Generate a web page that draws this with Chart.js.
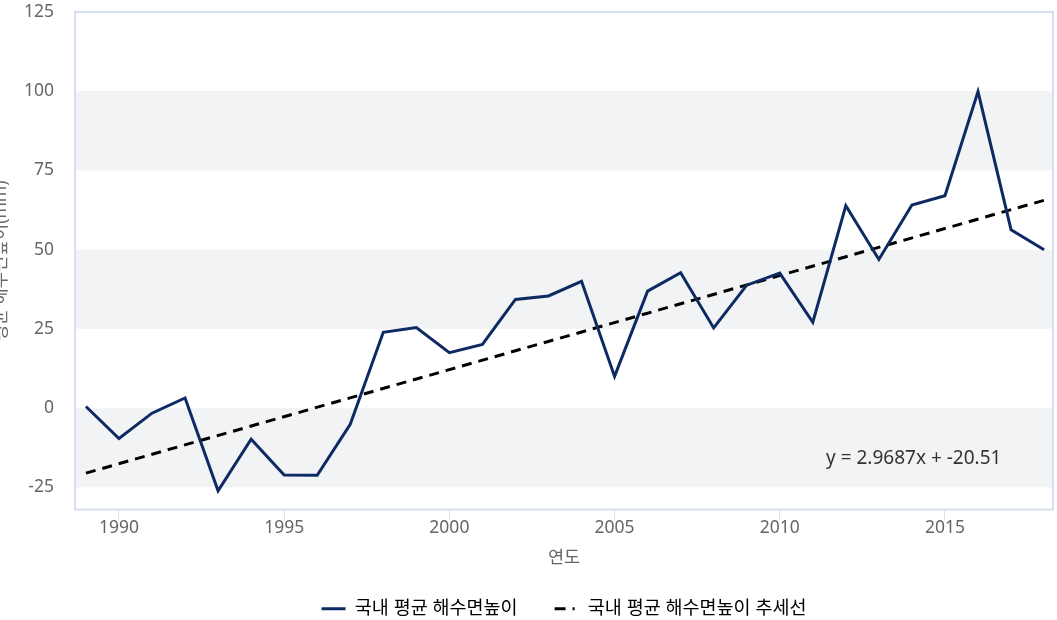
<!DOCTYPE html>
<html>
<head>
<meta charset="utf-8">
<script src="https://cdn.jsdelivr.net/npm/chart.js@4"></script>
<style>
  html, body { margin: 0; padding: 0; background: #fff; }
  #wrap { width: 1057px; height: 620px; position: relative; }
</style>
</head>
<body>
<div id="wrap"><canvas id="chartSeaLevel"></canvas></div>
<script>
// 국내 평균 해수면높이 (1989-2018)
const years = [1989, 1990, 1991, 1992, 1993, 1994, 1995, 1996, 1997, 1998,
               1999, 2000, 2001, 2002, 2003, 2004, 2005, 2006, 2007, 2008,
               2009, 2010, 2011, 2012, 2013, 2014, 2015, 2016, 2017, 2018];
const seaLevel = [0.5, -9.6, -1.6, 3.2, -26.1, -9.8, -21.1, -21.2, -5.1, 23.9,
                  25.4, 17.5, 20.1, 34.3, 35.4, 40.0, 10.0, 36.9, 42.7, 25.3,
                  38.8, 42.6, 27.1, 63.9, 46.9, 64.1, 67.0, 99.9, 56.3, 50.0];
// 추세선 양 끝점
const trendYears = [1989, 2018];
const trendValues = [-20.51, 65.58];
const xTicks = [1990, 1995, 2000, 2005, 2010, 2015];
const yTicks = [-25, 0, 25, 50, 75, 100, 125];
const trendLabel = 'y = 2.9687x + -20.51';

const FONT = "'Noto Sans', 'Noto Sans CJK KR', sans-serif";
const frameColor = '#d6deef';

// 배경 밴드 + 테두리 + 추세식 + y축 제목
const decoPlugin = {
  id: 'deco',
  beforeDatasetsDraw(chart) {
    const { ctx, chartArea: a, scales: { y } } = chart;
    ctx.save();
    ctx.fillStyle = '#f2f3f5';
    for (let i = 0; i < yTicks.length - 1; i += 2) {
      const top = y.getPixelForValue(yTicks[i + 1]);
      const bot = y.getPixelForValue(yTicks[i]);
      ctx.fillRect(a.left, top, a.right - a.left, bot - top);
    }
    ctx.strokeStyle = frameColor;
    ctx.lineWidth = 2;
    ctx.strokeRect(a.left, a.top, a.right - a.left, a.bottom - a.top);
    ctx.restore();
  },
  afterDraw(chart) {
    const { ctx, chartArea: a, scales: { x, y } } = chart;
    ctx.save();
    ctx.font = '19px ' + FONT;
    ctx.fillStyle = '#333333';
    ctx.textBaseline = 'middle';
    ctx.textAlign = 'left';
    ctx.fillText(trendLabel, x.getPixelForValue(2011.4), y.getPixelForValue(-16));
    // y축 제목 (왼쪽으로 잘려 있음)
    ctx.font = '17.5px ' + FONT;
    ctx.fillStyle = '#666666';
    ctx.translate(1, (a.top + a.bottom) / 2);
    ctx.rotate(-Math.PI / 2);
    ctx.textAlign = 'center';
    ctx.fillText('평균 해수면높이(mm)', 0, 0);
    ctx.restore();
  }
};

const ctx = document.getElementById('chartSeaLevel').getContext('2d');
new Chart(ctx, {
  type: 'line',
  data: {
    datasets: [
      {
        label: '국내 평균 해수면높이',
        data: years.map((yr, i) => ({ x: yr, y: seaLevel[i] })),
        borderColor: '#0d2a63',
        backgroundColor: '#0d2a63',
        borderWidth: 3,
        pointRadius: 0,
        tension: 0
      },
      {
        label: '국내 평균 해수면높이 추세선',
        data: trendYears.map((yr, i) => ({ x: yr, y: trendValues[i] })),
        borderColor: '#000000',
        backgroundColor: '#000000',
        borderWidth: 3,
        borderDash: [10, 7],
        pointRadius: 0
      }
    ]
  },
  options: {
    responsive: true,
    maintainAspectRatio: false,
    animation: false,
    layout: { padding: { top: 12, right: 4, left: 24, bottom: -8 } },
    scales: {
      x: {
        type: 'linear',
        min: 1988.67,
        max: 2018.27,
        afterBuildTicks: axis => { axis.ticks = xTicks.map(v => ({ value: v })); },
        grid: { drawOnChartArea: false, drawTicks: true, tickLength: 10, color: frameColor, lineWidth: 1 },
        border: { display: false },
        ticks: { color: '#666666', font: { family: FONT, size: 17.5 }, padding: -2, callback: v => String(v) },
        title: { display: true, text: '연도', color: '#666666', font: { family: FONT, size: 17.5 }, padding: { top: 11, bottom: -6 } }
      },
      y: {
        min: -32,
        max: 125,
        afterBuildTicks: axis => { axis.ticks = yTicks.map(v => ({ value: v })); },
        grid: { display: true, drawOnChartArea: false, drawTicks: true, tickLength: 21, color: 'rgba(0,0,0,0)' },
        border: { display: false },
        ticks: { color: '#666666', font: { family: FONT, size: 17.5 }, padding: 0 }
      }
    },
    plugins: {
      legend: {
        position: 'bottom',
        fullSize: false,
        labels: {
          usePointStyle: true,
          pointStyle: 'line',
          pointStyleWidth: 24,
          color: '#333333',
          font: { family: FONT, size: 18.5 },
          padding: 37,
          generateLabels: chart => chart.data.datasets.map((ds, i) => ({
            text: ds.label,
            strokeStyle: ds.borderColor,
            fillStyle: ds.borderColor,
            lineWidth: 3,
            lineDash: i === 1 ? [11, 7, 2, 20] : [],
            pointStyle: 'line',
            datasetIndex: i
          }))
        }
      },
      tooltip: { enabled: false }
    }
  },
  plugins: [decoPlugin]
});
</script>
</body>
</html>
